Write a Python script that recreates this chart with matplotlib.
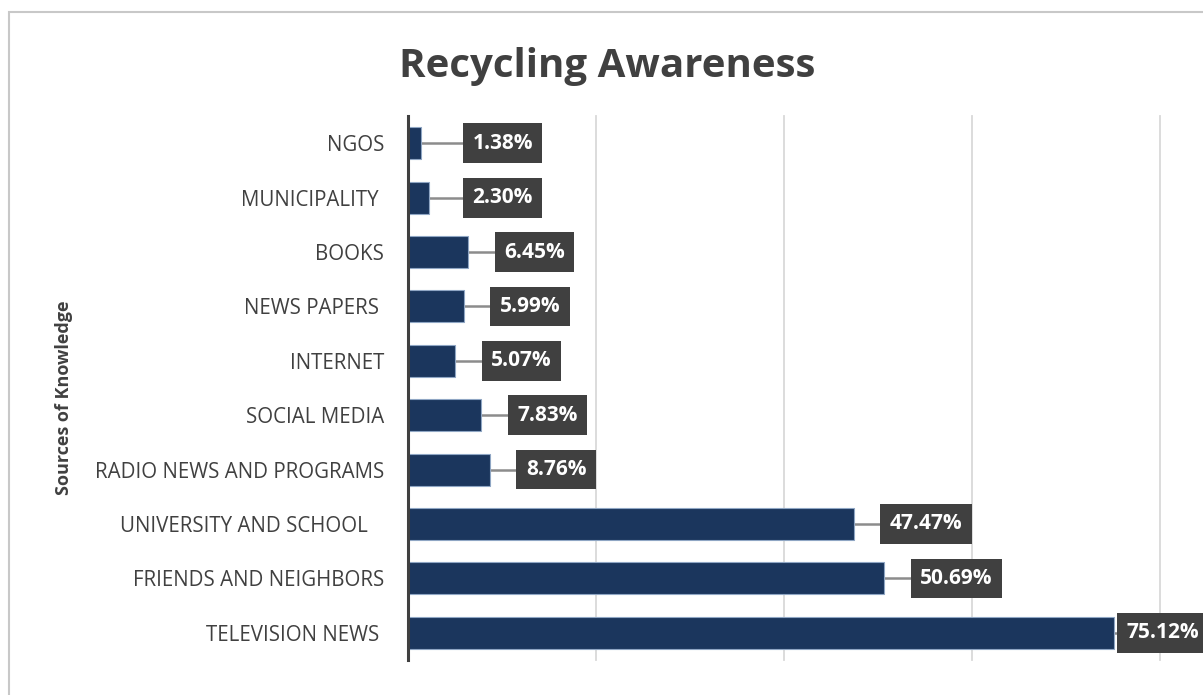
import matplotlib.pyplot as plt
import numpy as np
from matplotlib.patches import Rectangle

sources = ['NGOS', 'MUNICIPALITY ', 'BOOKS', 'NEWS PAPERS ', 'INTERNET',
           'SOCIAL MEDIA', 'RADIO NEWS AND PROGRAMS', 'UNIVERSITY AND SCHOOL   ',
           'FRIENDS AND NEIGHBORS', 'TELEVISION NEWS ']
shares = [1.38, 2.30, 6.45, 5.99, 5.07, 7.83, 8.76, 47.47, 50.69, 75.12]

plt.rcParams['font.family'] = ['Open Sans', 'DejaVu Sans']

fig = plt.figure(figsize=(12.03, 6.95), dpi=100)
fig.patches.append(Rectangle((0.0075, -0.1), 1.1, 1.0827, transform=fig.transFigure,
                             fill=False, edgecolor='#c8c8c8', linewidth=1.5))

ax = fig.add_axes([0.339, 0.0504, 0.6253, 0.7826])
y = np.arange(len(sources))
ax.barh(y, shares, height=0.59, color='#1b365d', edgecolor='#8fa6c4', linewidth=0.8, zorder=3)

ax.set_ylim(len(sources) - 0.5, -0.5)
ax.set_xlim(0, 80)
ax.set_xticks([20, 40, 60, 80])
ax.tick_params(axis='x', length=0, labelbottom=False)
ax.tick_params(axis='y', length=0, pad=17, labelsize=14.8, labelcolor='#404040')
ax.set_yticks(y)
ax.set_yticklabels(sources)
ax.grid(axis='x', color='#d9d9d9', linewidth=1.3, zorder=0)
for g in ax.get_xgridlines():
    g.set_clip_on(False)
for s in ['top', 'right', 'bottom']:
    ax.spines[s].set_visible(False)
ax.spines['left'].set_color('#404040')
ax.spines['left'].set_linewidth(2.2)
ax.spines['left'].set_zorder(4)

# value labels in dark boxes, joined to the bars by short leader lines
for i, v in enumerate(shares):
    lx = min(max(v + 2.9, 6.0), 75.5)
    ax.plot([v, lx], [i, i], color='#8c8c8c', linewidth=1.8, zorder=2)
    ax.annotate(f'{v:.2f}%', xy=(lx, i), xytext=(6, 0), textcoords='offset points',
                ha='left', va='center', color='white', fontsize=15, fontweight='bold',
                annotation_clip=False, zorder=5,
                bbox=dict(boxstyle='square,pad=0.45', facecolor='#404040', edgecolor='none'))

ax.set_ylabel('Sources of Knowledge', fontsize=13, fontweight='bold', color='#404040')
ax.yaxis.set_label_coords(-0.4455, 0.483)
fig.suptitle('Recycling Awareness', x=0.505, y=0.905, va='center',
             fontsize=29, fontweight='bold', color='#404040')

fig.savefig('out.png', dpi=100)
